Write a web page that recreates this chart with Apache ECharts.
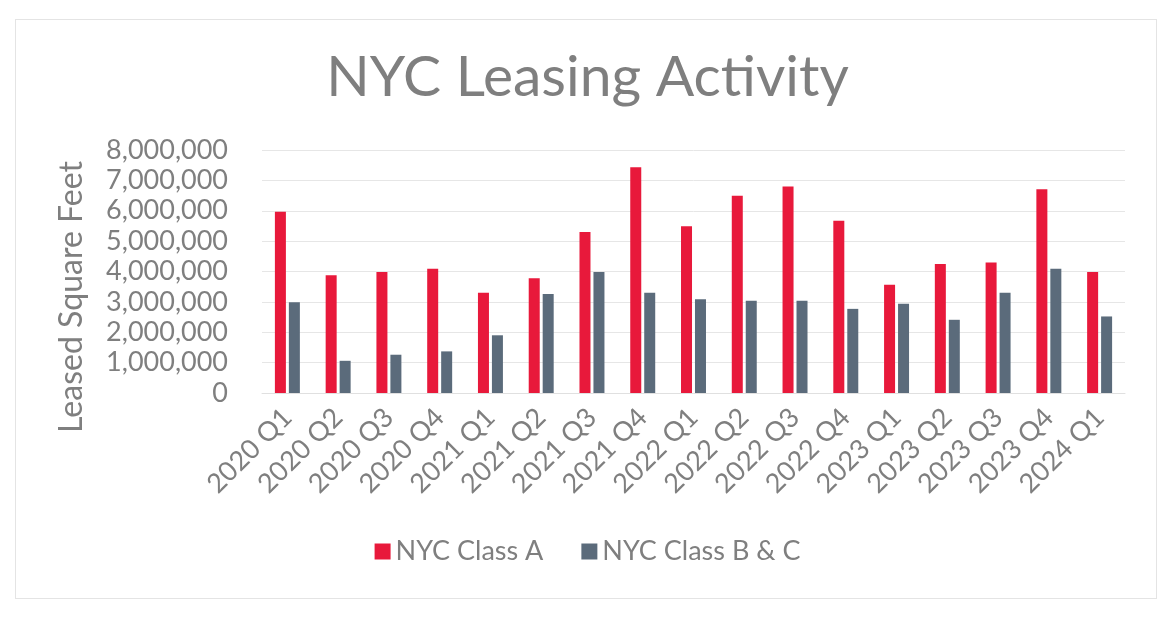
<!DOCTYPE html>
<html><head><meta charset="utf-8">
<script src="https://cdn.jsdelivr.net/npm/echarts@6/dist/echarts.min.js"></script>
<style>html,body{margin:0;padding:0;background:#fff;}#c{width:1175px;height:620px;}
#frame{position:absolute;left:15px;top:19px;width:1142px;height:580px;border:1px solid #e4e4e4;box-sizing:border-box;pointer-events:none;}</style>
</head><body><div id="c"></div><div id="frame"></div>
<script>
const categories = ['2020 Q1','2020 Q2','2020 Q3','2020 Q4','2021 Q1','2021 Q2','2021 Q3','2021 Q4','2022 Q1','2022 Q2','2022 Q3','2022 Q4','2023 Q1','2023 Q2','2023 Q3','2023 Q4','2024 Q1'];
const classA = [5970000,3880000,3980000,4090000,3300000,3780000,5300000,7430000,5490000,6490000,6800000,5670000,3560000,4250000,4300000,6710000,3980000];
const classBC = [2990000,1060000,1260000,1370000,1900000,3260000,3980000,3300000,3090000,3040000,3040000,2770000,2940000,2410000,3300000,4090000,2520000];
const seriesNames = ['NYC Class A','NYC Class B & C'];
const yAxisTitle = 'Leased Square Feet';

const font = 'Lato';
const grey = '#7f7f7f';
const chart = echarts.init(document.getElementById('c'));
chart.setOption({
  animation:false,
  title:{text:'NYC Leasing Activity',left:'center',top:44,textStyle:{fontFamily:font,fontSize:57,fontWeight:'normal',color:grey}},
  legend:{bottom:50,left:'center',itemWidth:16,itemHeight:16,itemGap:38,icon:'rect',
    textStyle:{fontFamily:font,fontSize:27,color:grey},data:seriesNames},
  grid:{left:262,right:50,top:150,bottom:227,containLabel:false},
  graphic:[{type:'text',x:72,y:297,rotation:Math.PI/2,
    style:{text:yAxisTitle,font:'32px Lato',fill:grey,align:'center',verticalAlign:'middle'}}],
  xAxis:{type:'category',data:categories,
    axisLine:{lineStyle:{color:'#e0e0e0'}},axisTick:{show:false},
    axisLabel:{rotate:45,interval:0,fontFamily:font,fontSize:27,color:grey,margin:20}},
  yAxis:{type:'value',min:0,max:8000000,interval:1000000,
    axisLine:{show:false},axisTick:{show:false},
    splitLine:{lineStyle:{color:'#e6e6e6'}},
    axisLabel:{fontFamily:font,fontSize:27,color:grey,margin:34,
      formatter:v=>v.toLocaleString('en-US')}},
  series:[
    {name:seriesNames[0],type:'bar',data:classA,barWidth:11,barGap:'27%',itemStyle:{color:'#E8193B'}},
    {name:seriesNames[1],type:'bar',data:classBC,barWidth:11,itemStyle:{color:'#5B6B7B'}}
  ]
});
</script></body></html>
